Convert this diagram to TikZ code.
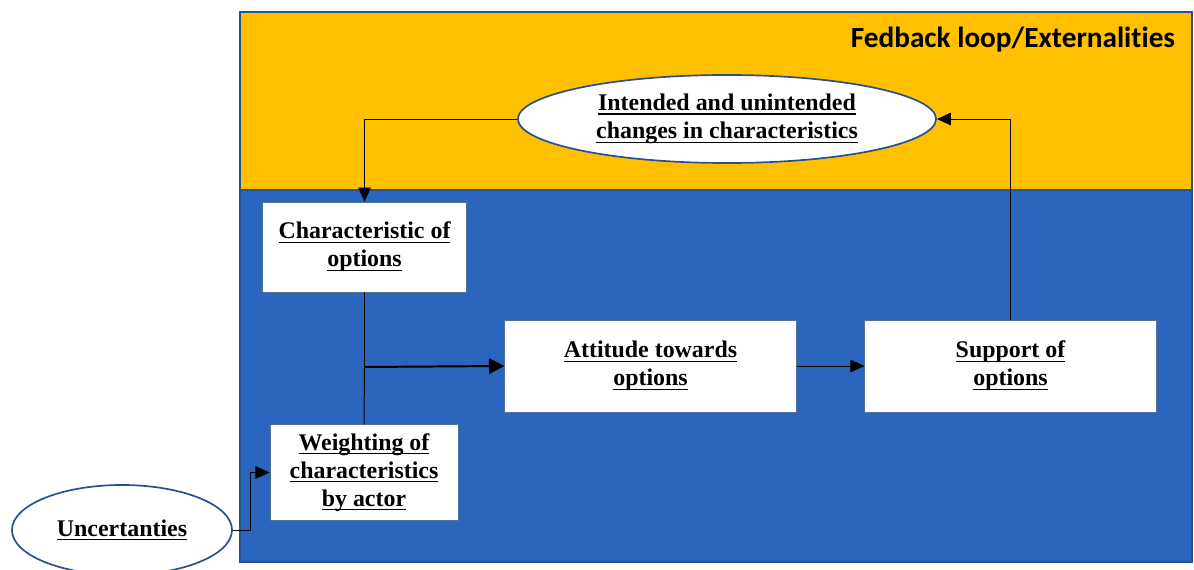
\documentclass[tikz,border=0pt]{standalone}
\usepackage{fontspec}
\setmainfont{Liberation Serif}
\newfontfamily\titlefont[Ligatures=NoCommon]{Carlito}
\usepackage{xcolor}
\usetikzlibrary{arrows.meta, shapes.geometric}
\definecolor{loopyellow}{RGB}{255,192,0}
\definecolor{actorblue}{RGB}{42,102,189}
\definecolor{edgeblue}{RGB}{40,80,145}
\definecolor{boxedge}{RGB}{80,115,150}
\newcommand\ulx[1]{\setbox0\hbox{#1}\rlap{\rule[-2.8pt]{\wd0}{0.8pt}}\box0}

\begin{document}
\begin{tikzpicture}[x=0.025cm, y=-0.025cm,
    lbl/.style={font=\fontsize{17}{20}\selectfont\bfseries, align=center, text=black},
    box/.style={lbl, draw=boxedge, line width=0.6pt, fill=white, inner sep=0pt},
    oval/.style={lbl, ellipse, draw=edgeblue, line width=1.2pt, fill=white, inner sep=0pt},
    conn/.style={line width=0.7pt, -{Triangle[length=10pt, width=9pt]}},
    bold conn/.style={line width=1.4pt, -{Triangle[length=11pt, width=11pt]}}]
    \useasboundingbox (0,0) rectangle (1194,570);
    % Areas
    \draw[fill=loopyellow, draw=edgeblue, line width=1.5pt] (240,12) rectangle (1192,190);
    \draw[fill=actorblue, draw=edgeblue, line width=1.5pt] (240,190) rectangle (1192,562);
    \node[font=\titlefont\fontsize{20.8}{24}\selectfont\bfseries, anchor=base east] (title) at (1180,48) {Fedback loop/Externalities};
    % Ellipses
    \node[oval, minimum width=10.45cm, minimum height=2.2cm] (changes) at (727,119)
        {\ulx{Intended and unintended}\\ \ulx{changes in characteristics}};
    \node[oval, minimum width=5.5cm, minimum height=2.25cm] (uncert) at (122,530) {\ulx{Uncertanties}};
    % Boxes
    \node[box, minimum width=5.08cm, minimum height=2.25cm] (chars) at (364.5,247)
        {\ulx{Characteristic of}\\ \ulx{options}};
    \node[box, minimum width=7.28cm, minimum height=2.3cm] (attitude) at (650.5,366)
        {\ulx{Attitude towards}\\ \ulx{options}};
    \node[box, minimum width=7.28cm, minimum height=2.3cm] (support) at (1010.5,366)
        {\ulx{Support of}\\ \ulx{options}};
    \node[box, minimum width=4.7cm, minimum height=2.38cm] (weight) at (364,472.5)
        {\ulx{Weighting of}\\ \ulx{characteristics}\\ \ulx{by actor}};
    % Connectors
    \coordinate (junc) at (364.5,367);
    \draw[line width=0.7pt] (chars.south) -- (junc);
    \draw[line width=0.7pt] (weight.north) -- (junc);
    \draw[bold conn] (junc) -- (attitude.west);
    \draw[conn] (attitude.east) -- (support.west);
    \draw[conn] (support.north) |- (changes.east);
    \draw[conn] (changes.west) -| (chars.north);
    \draw[conn] (uncert.east) -- ++(18,0) |- (weight.west);
\end{tikzpicture}
\end{document}
